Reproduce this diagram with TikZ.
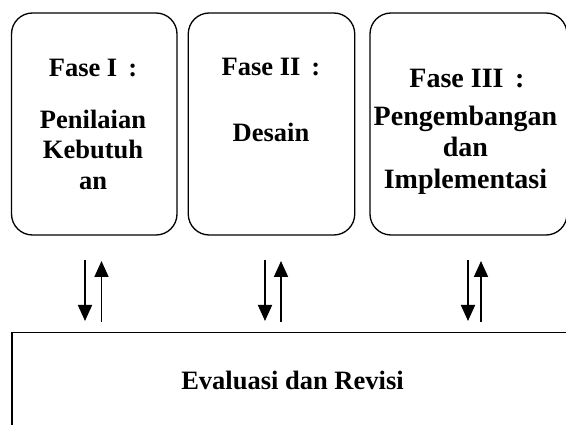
\documentclass[tikz,border=0pt]{standalone}
\usepackage{fontspec}
\setmainfont{Liberation Serif}
\usetikzlibrary{arrows.meta}
\begin{document}
\begin{tikzpicture}[x=1pt,y=-1pt,
  phasebox/.style={draw=black, line width=1.3pt, rounded corners=21pt},
  evalbox/.style={draw=black, line width=1.5pt},
  lbl/.style={anchor=base, inner sep=0pt, font=\fontsize{26.5}{31}\selectfont\bfseries},
  lblbig/.style={lbl, font=\fontsize{28}{33}\selectfont\bfseries},
  arr/.style={line width=1.8pt, -{Triangle[width=14pt,length=16pt]}}]
\useasboundingbox (0,0) rectangle (566,425);
\clip (0,0) rectangle (566,425);
% phase boxes
\node[phasebox, minimum width=165.5pt, minimum height=222pt, inner sep=0pt] (b1) at (94.25,124) {};
\node[phasebox, minimum width=166.5pt, minimum height=222pt, inner sep=0pt] (b2) at (271.5,124) {};
\node[phasebox, minimum width=197pt, minimum height=222pt, inner sep=0pt] (b3) at (468.5,124) {};
% texts box 1
\node[lbl] (t1a) at (93,77) {Fase I~\,:};
\node[lbl] (t1b) at (93,129) {Penilaian};
\node[lbl] (t1c) at (93,159) {Kebutuh};
\node[lbl] (t1d) at (93,190) {an};
% texts box 2
\node[lbl] (t2a) at (271,76) {Fase II~\,:};
\node[lbl] (t2b) at (271,142) {Desain};
% texts box 3
\node[lblbig] (t3a) at (467,88) {Fase III~\,:};
\node[lblbig] (t3b) at (465.5,126) {Pengembangan};
\node[lblbig] (t3c) at (465.5,157) {dan};
\node[lblbig] (t3d) at (465.5,189) {Implementasi};
% evaluation box
\node[evalbox, minimum width=600pt, minimum height=150pt, inner sep=0pt, anchor=north west] (ev) at (11,332) {};
\node[lbl] (evt) at (292.5,390) {Evaluasi dan Revisi};
% arrow end points
\coordinate (d1s) at (85,260);  \coordinate (d1e) at (85,321);
\coordinate (u1s) at (101.5,322); \coordinate (u1e) at (101.5,261);
\coordinate (d2s) at (265,260); \coordinate (d2e) at (265,321);
\coordinate (u2s) at (281,322); \coordinate (u2e) at (281,261);
\coordinate (d3s) at (468,260); \coordinate (d3e) at (468,321);
\coordinate (u3s) at (481,322); \coordinate (u3e) at (481,261);
\draw[arr] (d1s) -- (d1e);
\draw[arr] (u1s) -- (u1e);
\draw[arr] (d2s) -- (d2e);
\draw[arr] (u2s) -- (u2e);
\draw[arr] (d3s) -- (d3e);
\draw[arr] (u3s) -- (u3e);
\end{tikzpicture}
\end{document}
